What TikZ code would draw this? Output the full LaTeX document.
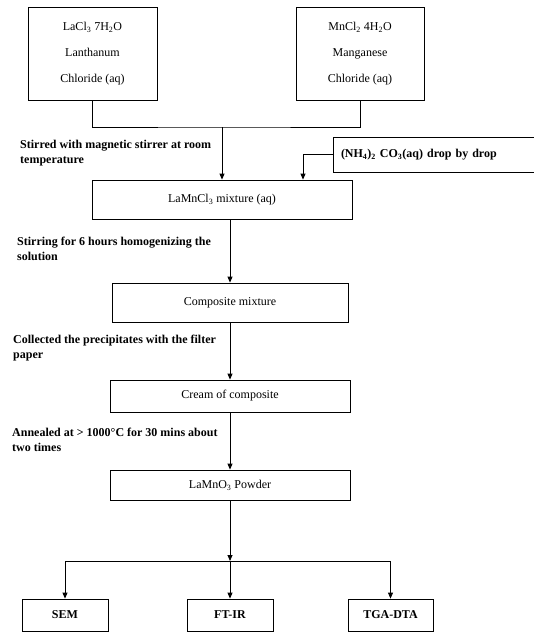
\documentclass[tikz,border=0pt]{standalone}
\usepackage{fontspec}
\setmainfont{Liberation Serif}
\usetikzlibrary{arrows.meta}

\tikzset{
  stage/.style={draw, line width=0.8pt, inner sep=0pt, align=center,
    font=\fontsize{12}{14}\selectfont},
  test/.style={stage, font=\bfseries\fontsize{12}{14}\selectfont},
  note/.style={anchor=west, align=left, inner sep=0pt,
    font=\bfseries\fontsize{12}{15}\selectfont},
  link/.style={line width=0.8pt},
  flow/.style={link, -{Triangle[length=6pt,width=5pt]}}
}

\begin{document}
\begin{tikzpicture}[x=1pt, y=-1pt]
        \useasboundingbox (0,0) rectangle (533,632);
        % starting solutions
        \node[stage, minimum width=129pt, minimum height=93pt] (lacl) at (92.5,53.5)
          {LaCl\textsubscript{3} 7H\textsubscript{2}O\\[12pt] Lanthanum\\[12pt] Chloride (aq)};
        \node[stage, minimum width=128pt, minimum height=93pt] (mncl) at (360,53.5)
          {MnCl\textsubscript{2} 4H\textsubscript{2}O\\[12pt] Manganese\\[12pt] Chloride (aq)};
        \node[stage, text width=199pt, inner xsep=8pt, align=left, minimum height=35pt,
          font=\bfseries\fontsize{12}{14}\selectfont] (nh4) at (440.5,154.5)
          {(NH\textsubscript{4})\textsubscript{2} CO\textsubscript{3}(aq) drop by drop};
        % main line
        \node[stage, minimum width=260pt, minimum height=39pt] (lamncl) at (222,199.5)
          {LaMnCl\textsubscript{3} mixture (aq)};
        \node[stage, minimum width=236pt, minimum height=39pt] (comp) at (230,302.5)
          {Composite mixture};
        \node[stage, minimum width=240pt, minimum height=32pt] (cream) at (230,396)
          {Cream of composite};
        \node[stage, minimum width=240pt, minimum height=30pt] (powder) at (230,485)
          {LaMnO\textsubscript{3} Powder};
        % characterisation
        \node[test, minimum width=86pt, minimum height=32pt] (sem) at (65,615) {SEM};
        \node[test, minimum width=86pt, minimum height=32pt] (ftir) at (230,615) {FT-IR};
        \node[test, minimum width=85pt, minimum height=32pt] (tga) at (390.5,615) {TGA-DTA};
        % process notes
        \node[note] (stirred) at (20,153.5) {Stirred with magnetic stirrer at room\\temperature};
        \node[note] (stirring) at (17,248.5) {Stirring for 6 hours homogenizing the\\solution};
        \node[note] (collected) at (13,348.5) {Collected the precipitates with the filter\\paper};
        \node[note] (annealed) at (12,440) {Annealed at > 1000°C for 30 mins about\\two times};
        % connectors
        \coordinate (merge) at (222,127);
        \coordinate (split) at (230,561);
        \draw[link] (lacl.south) |- (merge) -| (mncl.south);
        \draw[flow] (merge) -- (lamncl.north);
        \draw[flow] (nh4.west) -| ([xshift=81pt]lamncl.north);
        \draw[flow] (lamncl.south -| comp.north) -- (comp.north);
        \draw[flow] (comp.south) -- (cream.north);
        \draw[flow] (cream.south) -- (powder.north);
        \draw[flow] (powder.south) -- (split);
        \draw[flow] (split) -| (sem.north);
        \draw[flow] (split) -- (ftir.north);
        \draw[flow] (split) -| (tga.north);
    \end{tikzpicture}
\end{document}
